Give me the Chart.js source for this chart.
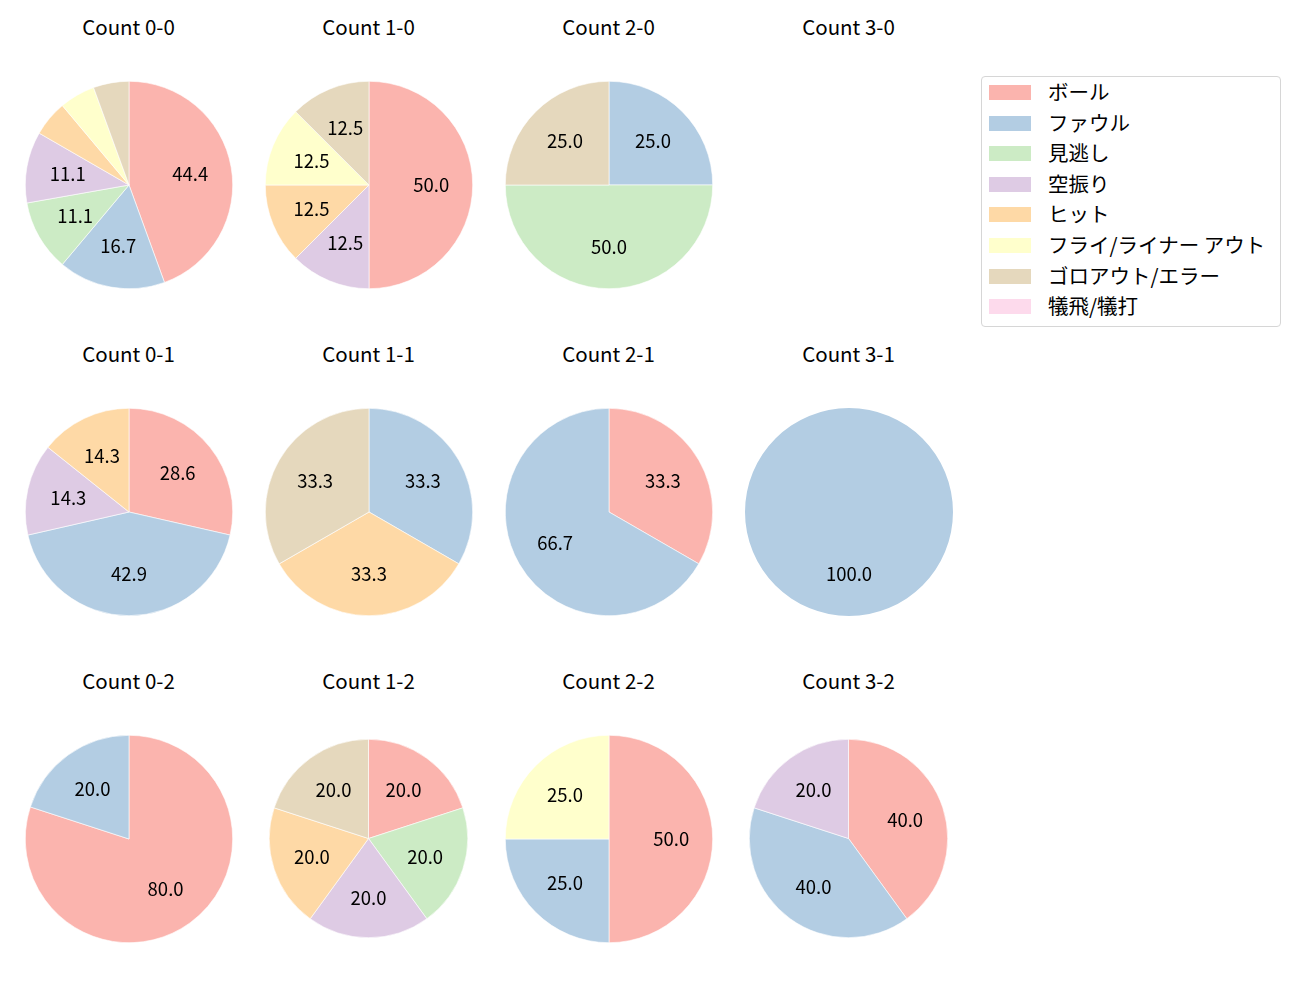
<!DOCTYPE html>
<html>
<head>
<meta charset="utf-8">
<script src="https://cdn.jsdelivr.net/npm/chart.js@4.4.1/dist/chart.umd.min.js"></script>
<style>
  html, body { margin: 0; padding: 0; background: #ffffff; }
  #wrap { position: relative; width: 1300px; height: 1000px; font-family: "Noto Sans CJK JP", "Noto Sans", sans-serif; color: #000; }
  canvas.pie { position: absolute; }
  .title { position: absolute; width: 200px; text-align: center; font-size: 20.5px; line-height: 24px; }
  #legend { position: absolute; left: 981px; top: 76px; width: 300px; height: 251px; border: 1px solid #d6d6d6; border-radius: 4px; box-sizing: border-box; }
  .lrow { position: absolute; left: 7px; height: 20px; font-size: 20.5px; line-height: 20px; white-space: nowrap; }
  .lpatch { position: absolute; left: 0; top: 2px; width: 42px; height: 15px; }
  .ltext { position: absolute; left: 59px; top: -2px; }
</style>
</head>
<body>
<div id="wrap"></div>
<script>
// ---- data ----
const categories = ["ボール", "ファウル", "見逃し", "空振り", "ヒット", "フライ/ライナー アウト", "ゴロアウト/エラー", "犠飛/犠打"];
const colors = ["#fbb4ae", "#b3cde3", "#ccebc5", "#decbe4", "#fed9a6", "#ffffcc", "#e5d8bd", "#fddaec"];
const countTitles = ["Count 0-0", "Count 1-0", "Count 2-0", "Count 3-0",
                     "Count 0-1", "Count 1-1", "Count 2-1", "Count 3-1",
                     "Count 0-2", "Count 1-2", "Count 2-2", "Count 3-2"];
// pitch counts per category (order as categories)
const count00 = [8, 3, 2, 2, 1, 1, 1, 0];
const count10 = [4, 0, 0, 1, 1, 1, 1, 0];
const count20 = [0, 1, 2, 0, 0, 0, 1, 0];
const count30 = [0, 0, 0, 0, 0, 0, 0, 0];
const count01 = [2, 3, 0, 1, 1, 0, 0, 0];
const count11 = [0, 1, 0, 0, 1, 0, 1, 0];
const count21 = [1, 2, 0, 0, 0, 0, 0, 0];
const count31 = [0, 1, 0, 0, 0, 0, 0, 0];
const count02 = [4, 1, 0, 0, 0, 0, 0, 0];
const count12 = [1, 0, 1, 1, 1, 0, 1, 0];
const count22 = [2, 1, 0, 0, 0, 1, 0, 0];
const count32 = [2, 2, 0, 1, 0, 0, 0, 0];
const allCounts = [count00, count10, count20, count30, count01, count11, count21, count31, count02, count12, count22, count32];

// ---- layout ----
const colX = [128.5, 368.5, 608.5, 848.5];
const rowY = [184.7, 512, 838.5];
const titleY = [26, 353, 680];
const radii = [103, 103, 103, 103, 103, 103, 103, 103, 103, 98.5, 103, 98.5];

const wrap = document.getElementById('wrap');

const pctLabels = {
  id: 'pctLabels',
  afterDatasetsDraw(chart) {
    const ctx = chart.ctx;
    const meta = chart.getDatasetMeta(0);
    const data = chart.data.datasets[0].data;
    const total = data.reduce((a, b) => a + b, 0);
    if (!total) return;
    ctx.save();
    ctx.font = '18.5px "Noto Sans CJK JP", "Noto Sans", sans-serif';
    ctx.fillStyle = '#000';
    ctx.textAlign = 'center';
    ctx.textBaseline = 'middle';
    meta.data.forEach((arc, i) => {
      const v = data[i];
      const pct = v / total * 100;
      if (pct < 10) return;
      const p = arc.getProps(['x', 'y', 'startAngle', 'endAngle', 'outerRadius'], true);
      const mid = (p.startAngle + p.endAngle) / 2;
      const r = p.outerRadius * 0.6;
      ctx.fillText(pct.toFixed(1), p.x + Math.cos(mid) * r, p.y + Math.sin(mid) * r);
    });
    ctx.restore();
  }
};

allCounts.forEach((vals, k) => {
  const col = k % 4, row = Math.floor(k / 4);
  const cx = colX[col], cy = rowY[row], r = radii[k];
  const t = document.createElement('div');
  t.className = 'title';
  t.style.left = (cx - 100) + 'px';
  t.style.top = (titleY[row] - 12) + 'px';
  t.textContent = countTitles[k];
  wrap.appendChild(t);

  const size = Math.round(2 * r + 2);
  const cv = document.createElement('canvas');
  cv.className = 'pie';
  cv.width = size; cv.height = size;
  cv.style.width = size + 'px'; cv.style.height = size + 'px';
  cv.style.left = (cx - size / 2) + 'px';
  cv.style.top = (cy - size / 2) + 'px';
  wrap.appendChild(cv);

  const nonZero = vals.filter(v => v > 0).length;
  new Chart(cv, {
    type: 'pie',
    data: {
      labels: categories,
      datasets: [{
        data: vals,
        backgroundColor: colors,
        borderColor: '#ffffff',
        borderWidth: nonZero > 1 ? 0.6 : 0
      }]
    },
    options: {
      responsive: false,
      animation: false,
      events: [],
      layout: { padding: 0 },
      plugins: { legend: { display: false }, tooltip: { enabled: false }, title: { display: false } }
    },
    plugins: [pctLabels]
  });
});

// ---- legend ----
const legend = document.createElement('div');
legend.id = 'legend';
wrap.appendChild(legend);
categories.forEach((c, i) => {
  const row = document.createElement('div');
  row.className = 'lrow';
  row.style.top = (6 + i * 30.6) + 'px';
  const p = document.createElement('div');
  p.className = 'lpatch';
  p.style.background = colors[i];
  const tx = document.createElement('div');
  tx.className = 'ltext';
  tx.textContent = c;
  row.appendChild(p); row.appendChild(tx);
  legend.appendChild(row);
});
</script>
</body>
</html>
